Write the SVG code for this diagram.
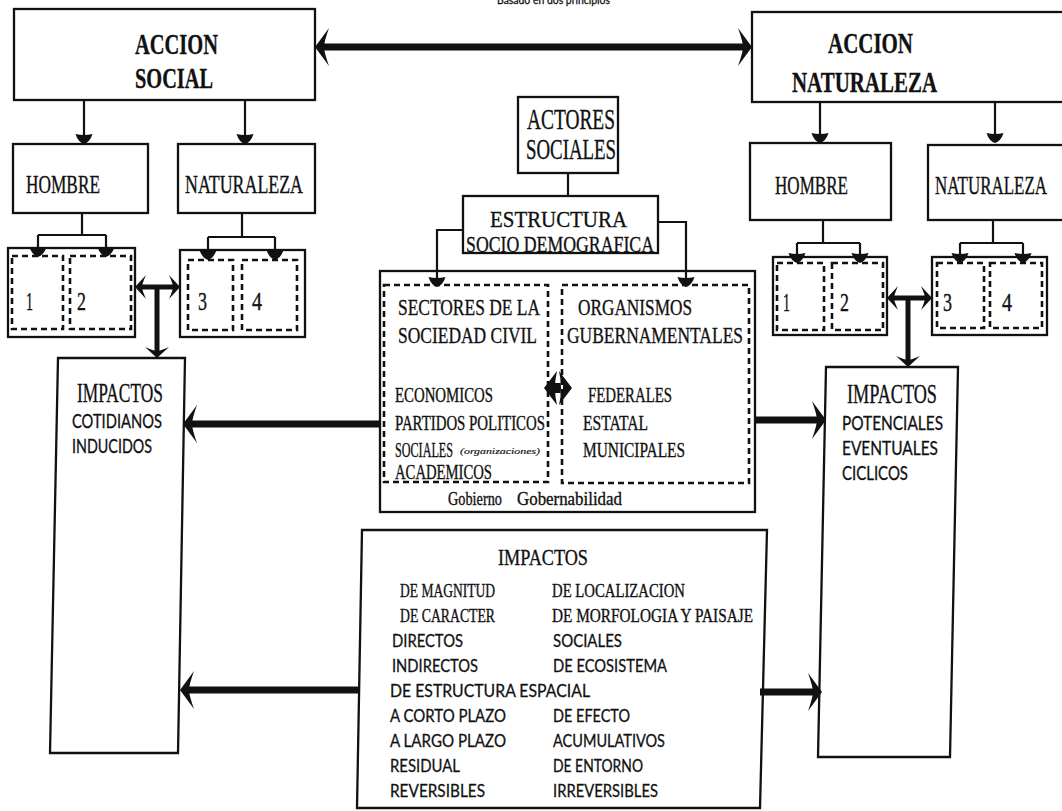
<svg xmlns="http://www.w3.org/2000/svg" width="1062" height="811" viewBox="0 0 1062 811">
<style>
.box{fill:none;stroke:#111;stroke-width:2.3}
.dash{fill:none;stroke:#111;stroke-width:2.6;stroke-dasharray:6 4}
.thin{fill:none;stroke:#111;stroke-width:2.2}
.thick{fill:none;stroke:#111;stroke-width:7}
.med{fill:none;stroke:#111;stroke-width:5}
text{fill:#111}
.se{font-family:"Liberation Serif","Times New Roman",serif;stroke:#111;stroke-width:0.35}
.sa{font-family:Lato,"Noto Sans",sans-serif;stroke:#111;stroke-width:0.3}
.b{font-weight:bold}
</style>
<defs>
<marker id="hb" viewBox="0 -20 14 40" markerWidth="14" markerHeight="40" refX="5" refY="0" orient="auto-start-reverse" markerUnits="userSpaceOnUse">
<path d="M14,0 L0,-19 Q5,-5 5,0 Q5,5 0,19 Z" fill="#111"/>
</marker>
<marker id="hm" viewBox="0 -12 11 24" markerWidth="11" markerHeight="24" refX="4" refY="0" orient="auto-start-reverse" markerUnits="userSpaceOnUse">
<path d="M11,0 L0,-12 Q4,-3 4,0 Q4,3 0,12 Z" fill="#111"/>
</marker>
<marker id="ht" viewBox="0 -9 11 18" markerWidth="11" markerHeight="18" refX="2" refY="0" orient="auto" markerUnits="userSpaceOnUse">
<path d="M11,0 Q9,-6 1,-8.5 Q3,0 1,8.5 Q9,6 11,0 Z" fill="#111"/>
</marker>
</defs>
<rect width="1062" height="811" fill="#fff"/>

<text class="sa" x="497" y="4" font-size="12" textLength="113" lengthAdjust="spacingAndGlyphs">Basado en dos principios</text>

<g id="accion-social">
<rect class="box" x="14" y="9" width="301" height="91"/>
<text class="se b" x="135" y="54" font-size="30" textLength="83" lengthAdjust="spacingAndGlyphs">ACCION</text>
<text class="se b" x="135" y="88" font-size="30" textLength="78" lengthAdjust="spacingAndGlyphs">SOCIAL</text>
</g>
<g id="accion-naturaleza">
<rect class="box" x="752" y="12" width="320" height="90"/>
<text class="se b" x="828" y="53" font-size="30" textLength="85" lengthAdjust="spacingAndGlyphs">ACCION</text>
<text class="se b" x="792" y="92" font-size="30" textLength="145" lengthAdjust="spacingAndGlyphs">NATURALEZA</text>
</g>

<g id="hombre-l">
<rect class="box" x="13" y="144" width="135" height="69"/>
<text class="se" x="26" y="193" font-size="26" textLength="74" lengthAdjust="spacingAndGlyphs">HOMBRE</text>
</g>
<g id="naturaleza-l">
<rect class="box" x="178" y="144" width="137" height="69"/>
<text class="se" x="185" y="193" font-size="26" textLength="118" lengthAdjust="spacingAndGlyphs">NATURALEZA</text>
</g>
<g id="hombre-r">
<rect class="box" x="750" y="143" width="141" height="77"/>
<text class="se" x="775" y="194" font-size="26" textLength="73" lengthAdjust="spacingAndGlyphs">HOMBRE</text>
</g>
<g id="naturaleza-r">
<rect class="box" x="928" y="145" width="140" height="75"/>
<text class="se" x="935" y="194" font-size="26" textLength="112" lengthAdjust="spacingAndGlyphs">NATURALEZA</text>
</g>

<g id="box-12-l">
<rect class="box" x="8" y="248" width="127" height="89"/>
<rect class="dash" x="12" y="256" width="51" height="73"/>
<rect class="dash" x="70" y="256" width="61" height="73"/>
<text class="se" x="26" y="310" font-size="25" textLength="7" lengthAdjust="spacingAndGlyphs">1</text>
<text class="se" x="77" y="310" font-size="25" textLength="9" lengthAdjust="spacingAndGlyphs">2</text>
</g>
<g id="box-34-l">
<rect class="box" x="180" y="250" width="125" height="87"/>
<rect class="dash" x="188" y="260" width="45" height="70"/>
<rect class="dash" x="242" y="260" width="55" height="70"/>
<text class="se" x="198" y="310" font-size="25" textLength="9" lengthAdjust="spacingAndGlyphs">3</text>
<text class="se" x="252" y="310" font-size="25" textLength="10" lengthAdjust="spacingAndGlyphs">4</text>
</g>
<g id="box-12-r">
<rect class="box" x="773" y="257" width="114" height="78"/>
<rect class="dash" x="777" y="263" width="47" height="67"/>
<rect class="dash" x="832" y="263" width="51" height="67"/>
<text class="se" x="783" y="311" font-size="25" textLength="7" lengthAdjust="spacingAndGlyphs">1</text>
<text class="se" x="840" y="311" font-size="25" textLength="9" lengthAdjust="spacingAndGlyphs">2</text>
</g>
<g id="box-34-r">
<rect class="box" x="932" y="257" width="115" height="78"/>
<rect class="dash" x="937" y="263" width="47" height="65"/>
<rect class="dash" x="990" y="263" width="52" height="65"/>
<text class="se" x="943" y="311" font-size="25" textLength="9" lengthAdjust="spacingAndGlyphs">3</text>
<text class="se" x="1002" y="311" font-size="25" textLength="10" lengthAdjust="spacingAndGlyphs">4</text>
</g>

<g id="impactos-l">
<path class="box" d="M58,358 L185,358 L178,753 L50,753 Z"/>
<text class="se" x="77" y="402" font-size="27" textLength="86" lengthAdjust="spacingAndGlyphs">IMPACTOS</text>
<text class="sa" x="72" y="428" font-size="19" textLength="90" lengthAdjust="spacingAndGlyphs">COTIDIANOS</text>
<text class="sa" x="72" y="453" font-size="19" textLength="80" lengthAdjust="spacingAndGlyphs">INDUCIDOS</text>
</g>
<g id="impactos-r">
<path class="box" d="M826,367 L958,367 L950,757 L818,757 Z"/>
<text class="se" x="847" y="403" font-size="27" textLength="90" lengthAdjust="spacingAndGlyphs">IMPACTOS</text>
<text class="sa" x="842" y="430" font-size="19" textLength="101" lengthAdjust="spacingAndGlyphs">POTENCIALES</text>
<text class="sa" x="842" y="455" font-size="19" textLength="96" lengthAdjust="spacingAndGlyphs">EVENTUALES</text>
<text class="sa" x="842" y="480" font-size="19" textLength="66" lengthAdjust="spacingAndGlyphs">CICLICOS</text>
</g>

<g id="actores">
<rect class="box" x="518" y="97" width="100" height="76"/>
<text class="se" x="527" y="129" font-size="29" textLength="88" lengthAdjust="spacingAndGlyphs">ACTORES</text>
<text class="se" x="526" y="159" font-size="29" textLength="90" lengthAdjust="spacingAndGlyphs">SOCIALES</text>
</g>
<g id="estructura">
<rect class="box" x="463" y="196" width="195" height="57"/>
<text class="se" x="490" y="227" font-size="24" textLength="137" lengthAdjust="spacingAndGlyphs">ESTRUCTURA</text>
<text class="se" x="466" y="252" font-size="24" textLength="188" lengthAdjust="spacingAndGlyphs">SOCIO DEMOGRAFICA</text>
</g>

<g id="sectores">
<rect class="box" x="380" y="271" width="375" height="241"/>
<rect class="dash" x="384" y="285" width="164" height="197"/>
<rect class="dash" x="562" y="285" width="187" height="198"/>
<text class="se" x="398" y="315" font-size="24" textLength="142" lengthAdjust="spacingAndGlyphs">SECTORES DE LA</text>
<text class="se" x="398" y="343" font-size="24" textLength="139" lengthAdjust="spacingAndGlyphs">SOCIEDAD CIVIL</text>
<text class="se" x="578" y="315" font-size="24" textLength="114" lengthAdjust="spacingAndGlyphs">ORGANISMOS</text>
<text class="se" x="567" y="343" font-size="24" textLength="176" lengthAdjust="spacingAndGlyphs">GUBERNAMENTALES</text>
<text class="se" x="395" y="402" font-size="20" textLength="98" lengthAdjust="spacingAndGlyphs">ECONOMICOS</text>
<text class="se" x="395" y="430" font-size="20" textLength="150" lengthAdjust="spacingAndGlyphs">PARTIDOS POLITICOS</text>
<text class="se" x="395" y="457" font-size="20" textLength="58" lengthAdjust="spacingAndGlyphs">SOCIALES</text>
<text class="se" x="460" y="454" font-size="8" font-style="italic" style="stroke-width:0.15" textLength="80" lengthAdjust="spacingAndGlyphs">(organizaciones)</text>
<text class="se" x="395" y="479" font-size="20" textLength="97" lengthAdjust="spacingAndGlyphs">ACADEMICOS</text>
<text class="se" x="588" y="402" font-size="20" textLength="84" lengthAdjust="spacingAndGlyphs">FEDERALES</text>
<text class="se" x="583" y="430" font-size="20" textLength="65" lengthAdjust="spacingAndGlyphs">ESTATAL</text>
<text class="se" x="583" y="457" font-size="20" textLength="102" lengthAdjust="spacingAndGlyphs">MUNICIPALES</text>
<text class="se" x="448" y="505" font-size="18" textLength="54" lengthAdjust="spacingAndGlyphs">Gobierno</text>
<text class="se" x="517" y="505" font-size="18" textLength="105" lengthAdjust="spacingAndGlyphs">Gobernabilidad</text>
<path d="M544,388 L557,371 Q553,388 557,405 Z M572,388 L559,371 Q563,388 559,405 Z M553,383 H563 V393 H553 Z" fill="#111"/>
</g>

<g id="impactos-b">
<path class="box" d="M362,530 L767,530 L760,808 L357,808 Z"/>
<text class="se" x="498" y="565" font-size="24" textLength="90" lengthAdjust="spacingAndGlyphs">IMPACTOS</text>
<g class="se" font-size="19">
<text x="400" y="597" textLength="95" lengthAdjust="spacingAndGlyphs">DE MAGNITUD</text>
<text x="552" y="597" textLength="133" lengthAdjust="spacingAndGlyphs">DE LOCALIZACION</text>
<text x="400" y="622" textLength="95" lengthAdjust="spacingAndGlyphs">DE CARACTER</text>
<text x="552" y="622" textLength="201" lengthAdjust="spacingAndGlyphs">DE MORFOLOGIA Y PAISAJE</text>
</g>
<g class="sa" font-size="18">
<text x="392" y="647" textLength="71" lengthAdjust="spacingAndGlyphs">DIRECTOS</text>
<text x="553" y="647" textLength="69" lengthAdjust="spacingAndGlyphs">SOCIALES</text>
<text x="392" y="672" textLength="86" lengthAdjust="spacingAndGlyphs">INDIRECTOS</text>
<text x="553" y="672" textLength="114" lengthAdjust="spacingAndGlyphs">DE ECOSISTEMA</text>
<text x="390" y="697" textLength="200" lengthAdjust="spacingAndGlyphs">DE ESTRUCTURA ESPACIAL</text>
<text x="390" y="722" textLength="116" lengthAdjust="spacingAndGlyphs">A CORTO PLAZO</text>
<text x="553" y="722" textLength="77" lengthAdjust="spacingAndGlyphs">DE EFECTO</text>
<text x="390" y="747" textLength="116" lengthAdjust="spacingAndGlyphs">A LARGO PLAZO</text>
<text x="553" y="747" textLength="112" lengthAdjust="spacingAndGlyphs">ACUMULATIVOS</text>
<text x="390" y="772" textLength="70" lengthAdjust="spacingAndGlyphs">RESIDUAL</text>
<text x="553" y="772" textLength="90" lengthAdjust="spacingAndGlyphs">DE ENTORNO</text>
<text x="390" y="797" textLength="95" lengthAdjust="spacingAndGlyphs">REVERSIBLES</text>
<text x="553" y="797" textLength="105" lengthAdjust="spacingAndGlyphs">IRREVERSIBLES</text>
</g>
</g>

<g id="connectors">
<path class="thick" d="M324,47 H743" stroke-width="8" marker-start="url(#hb)" marker-end="url(#hb)"/>
<path class="thin" d="M84,100 V135" marker-end="url(#ht)"/>
<path class="thin" d="M245,100 V135" marker-end="url(#ht)"/>
<path class="thin" d="M820,102 V134" marker-end="url(#ht)"/>
<path class="thin" d="M995,102 V134" marker-end="url(#ht)"/>
<path class="thin" d="M82,213 V235 M38,235 H106"/>
<path class="thin" d="M38,235 V248" marker-end="url(#ht)"/>
<path class="thin" d="M106,235 V248" marker-end="url(#ht)"/>
<path class="thin" d="M242,213 V237 M208,237 H275"/>
<path class="thin" d="M208,237 V251" marker-end="url(#ht)"/>
<path class="thin" d="M275,237 V251" marker-end="url(#ht)"/>
<path class="thin" d="M823,220 V243 M797,243 H860"/>
<path class="thin" d="M797,243 V254" marker-end="url(#ht)"/>
<path class="thin" d="M860,243 V254" marker-end="url(#ht)"/>
<path class="thin" d="M993,220 V243 M960,243 H1023"/>
<path class="thin" d="M960,243 V254" marker-end="url(#ht)"/>
<path class="thin" d="M1023,243 V254" marker-end="url(#ht)"/>
<path class="thin" d="M568,173 V196"/>
<path class="thin" d="M463,230 H437 V278" marker-end="url(#ht)"/>
<path class="thin" d="M658,222 H686 V278" marker-end="url(#ht)"/>
<path class="med" d="M142,287 H173" marker-start="url(#hm)" marker-end="url(#hm)"/>
<path class="med" d="M157,287 V351" stroke-width="6" marker-end="url(#hm)"/>
<path class="med" d="M894,298 H925" marker-start="url(#hm)" marker-end="url(#hm)"/>
<path class="med" d="M908,298 V360" stroke-width="6" marker-end="url(#hm)"/>
<path class="thick" d="M380,424 H192" marker-end="url(#hb)"/>
<path class="thick" d="M755,420 H817" marker-end="url(#hb)"/>
<path class="thick" d="M358,690 H189" stroke-width="6" marker-end="url(#hb)"/>
<path class="thick" d="M760,692 H813" stroke-width="6" marker-end="url(#hb)"/>
</g>
</svg>
